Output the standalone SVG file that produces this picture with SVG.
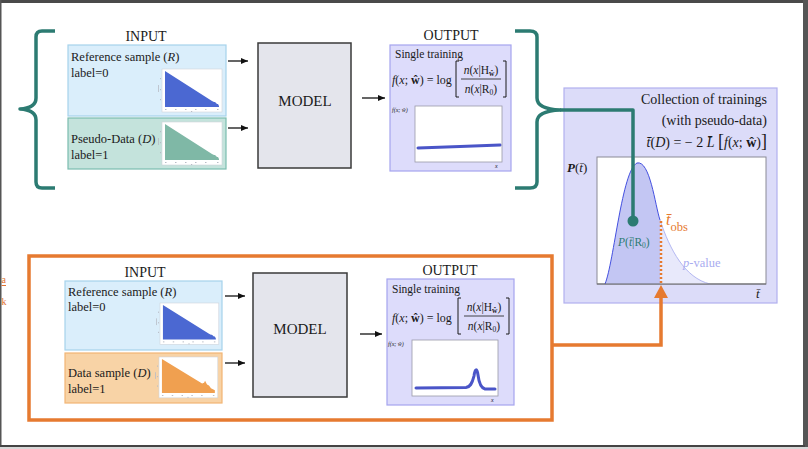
<svg xmlns="http://www.w3.org/2000/svg" width="808" height="449" viewBox="0 0 808 449">
  <style>
    text { font-family: "Liberation Serif", "DejaVu Serif", serif; fill: #1a1a1a; }
    .title { font-size: 14px; text-anchor: middle; }
    .lbl { font-size: 12.5px; }
    .model { font-size: 15px; text-anchor: middle; }
    .it { font-style: italic; }
    .bf { font-weight: bold; }
    .ref { fill: #daeefb; stroke: #a6d2ec; stroke-width: 1.2; }
    .pseudo { fill: #c4e3dc; stroke: #7bbcaf; stroke-width: 1.2; }
    .data { fill: #f8d3a6; stroke: #f2b574; stroke-width: 1.2; }
    .modelbox { fill: #e4e5ec; stroke: #3a3a3a; stroke-width: 1.5; }
    .outbox { fill: #dddcfb; stroke: #a5a4ee; stroke-width: 1.2; }
    .plot { fill: #ffffff; stroke: #9a9aa8; stroke-width: 0.8; }
    .arrow { stroke: #111; stroke-width: 1.3; fill: none; marker-end: url(#head); }
    .teal { stroke: #2c7b72; stroke-width: 3.5; fill: none; stroke-linejoin: round; }
    .orange { stroke: #e67a30; stroke-width: 3.5; fill: none; }
    .tiny { font-size: 6px; }
    .frac { font-size: 11.5px; text-anchor: middle; }
  </style>
  <defs>
    <marker id="head" markerUnits="userSpaceOnUse" markerWidth="7" markerHeight="6" refX="7" refY="3" orient="auto">
      <path d="M0,0 L7,3 L0,6 z" fill="#111"/>
    </marker>
    <!-- small histogram thumbnail; bar colour comes from the referencing <use> -->
    <g id="hist">
      <rect x="0" y="0" width="60" height="43" fill="#fff" stroke="#cfd3da" stroke-width="0.6"/>
      <polygon points="3,38 3,2 50,32 52,33 53,33 55,35 56,35 57,37 57,38"/>
      <g fill="#b8bcc6">
        <rect x="3" y="40" width="1.5" height="1"/><rect x="13" y="40" width="1.5" height="1"/>
        <rect x="23" y="40" width="1.5" height="1"/><rect x="33" y="40" width="1.5" height="1"/>
        <rect x="43" y="40" width="1.5" height="1"/><rect x="55" y="40" width="1.5" height="1"/>
        <rect x="29" y="42" width="1.2" height="1"/>
        <rect x="-2" y="9" width="1" height="1.2"/><rect x="-2" y="20" width="1" height="1.2"/>
        <rect x="-2" y="30" width="1" height="1.2"/><rect x="-4" y="16" width="0.8" height="7"/>
      </g>
    </g>
    <g id="hist-bump">
      <rect x="0" y="0" width="60" height="43" fill="#fff" stroke="#cfd3da" stroke-width="0.6"/>
      <polygon points="3,38 3,2 44,28 46,27 47,25 49,29 51,30 53,33 57,35 57,38"/>
      <g fill="#b8bcc6">
        <rect x="3" y="40" width="1.5" height="1"/><rect x="13" y="40" width="1.5" height="1"/>
        <rect x="23" y="40" width="1.5" height="1"/><rect x="33" y="40" width="1.5" height="1"/>
        <rect x="43" y="40" width="1.5" height="1"/><rect x="55" y="40" width="1.5" height="1"/>
        <rect x="29" y="42" width="1.2" height="1"/>
        <rect x="-2" y="9" width="1" height="1.2"/><rect x="-2" y="20" width="1" height="1.2"/>
        <rect x="-2" y="30" width="1" height="1.2"/><rect x="-4" y="16" width="0.8" height="7"/>
      </g>
    </g>
  </defs>

  <!-- page frame -->
  <rect x="0" y="0" width="808" height="449" fill="#ffffff"/>
  <rect x="0" y="0" width="808" height="3" fill="#4a4a4a"/>
  <rect x="803" y="0" width="5" height="449" fill="#555"/>
  <rect x="0" y="0" width="1.5" height="447" fill="#555"/>
  <rect x="0" y="445" width="805" height="2" fill="#444"/>
  <rect x="0" y="447" width="808" height="2" fill="#d8d8d8"/>

  <!-- side annotation -->
  <g id="side-note">
    <text x="1.5" y="283" font-size="10" style="fill:#e07030">a</text>
    <line x1="1.5" y1="285.5" x2="6" y2="285.5" stroke="#e07030" stroke-width="1"/>
    <text x="1.5" y="305" font-size="10" style="fill:#e07030">k</text>
  </g>

  <!-- ===== pseudo-data training row ===== -->
  <g id="top-input">
    <text class="title" x="146" y="41">INPUT</text>
    <rect class="ref" x="68" y="45" width="158" height="71"/>
    <text class="lbl" x="71" y="61">Reference sample (<tspan class="it">R</tspan>)</text>
    <text class="lbl" x="71" y="77">label=0</text>
    <use href="#hist" transform="translate(162,69)" fill="#4b68d2"/>
    <rect class="pseudo" x="68" y="118" width="158" height="51"/>
    <text class="lbl" x="71" y="143">Pseudo-Data (<tspan class="it">D</tspan>)</text>
    <text class="lbl" x="71" y="159">label=1</text>
    <use href="#hist" transform="translate(162,122)" fill="#7fb8a6"/>
  </g>

  <g id="top-model">
    <rect class="modelbox" x="258" y="43" width="93" height="125"/>
    <text class="model" x="305" y="106">MODEL</text>
  </g>

  <g id="top-output">
    <text class="title" x="451" y="40">OUTPUT</text>
    <rect class="outbox" x="390" y="45" width="121" height="126"/>
    <text x="395" y="58" font-size="11.5">Single training</text>
    <text x="392" y="84" font-size="12"><tspan class="it">f</tspan>(<tspan class="it">x</tspan>; <tspan class="bf">ŵ</tspan>) = log</text>
    <path d="M459,61 H456 V97 H459 M503,61 H506 V97 H503" stroke="#1a1a1a" stroke-width="1" fill="none"/>
    <text class="frac" x="481" y="74"><tspan class="it">n</tspan>(<tspan class="it">x</tspan>|H<tspan class="bf" font-size="7.5" dy="2">ŵ</tspan><tspan dy="-2">)</tspan></text>
    <line x1="461" y1="79" x2="501" y2="79" stroke="#1a1a1a" stroke-width="0.8"/>
    <text class="frac" x="481" y="93"><tspan class="it">n</tspan>(<tspan class="it">x</tspan>|R<tspan font-size="7.5" dy="2">0</tspan><tspan dy="-2">)</tspan></text>
    <rect class="plot" x="415" y="106" width="87" height="56"/>
    <text class="tiny it" x="392" y="112">f(x; ŵ)</text>
    <text class="tiny it" x="495" y="168">x</text>
    <path d="M418,148 L460,146.5 L500,145" stroke="#4a55c8" stroke-width="3" fill="none" stroke-linecap="round"/>
  </g>

  <!-- ===== observed data row ===== -->
  <g id="bottom-input">
    <text class="title" x="145" y="277">INPUT</text>
    <rect class="ref" x="65" y="281" width="157" height="69"/>
    <text class="lbl" x="68" y="296">Reference sample (<tspan class="it">R</tspan>)</text>
    <text class="lbl" x="68" y="311">label=0</text>
    <use href="#hist" transform="translate(160,303) scale(0.98,0.96)" fill="#4b68d2"/>
    <rect class="data" x="65" y="353" width="157" height="50"/>
    <text class="lbl" x="68" y="377">Data sample (<tspan class="it">D</tspan>)</text>
    <text class="lbl" x="68" y="393">label=1</text>
    <use href="#hist-bump" transform="translate(159,357) scale(0.98,0.95)" fill="#f0a050"/>
  </g>

  <g id="bottom-model">
    <rect class="modelbox" x="253" y="273" width="94" height="124"/>
    <text class="model" x="300" y="334">MODEL</text>
  </g>

  <g id="bottom-output">
    <text class="title" x="450" y="275">OUTPUT</text>
    <rect class="outbox" x="387" y="279" width="127" height="126"/>
    <text x="392" y="293" font-size="11.5">Single training</text>
    <text x="392" y="322" font-size="12"><tspan class="it">f</tspan>(<tspan class="it">x</tspan>; <tspan class="bf">ŵ</tspan>) = log</text>
    <path d="M461,298 H458 V334 H461 M506,298 H509 V334 H506" stroke="#1a1a1a" stroke-width="1" fill="none"/>
    <text class="frac" x="484" y="311"><tspan class="it">n</tspan>(<tspan class="it">x</tspan>|H<tspan class="bf" font-size="7.5" dy="2">ŵ</tspan><tspan dy="-2">)</tspan></text>
    <line x1="464" y1="316" x2="504" y2="316" stroke="#1a1a1a" stroke-width="0.8"/>
    <text class="frac" x="484" y="330"><tspan class="it">n</tspan>(<tspan class="it">x</tspan>|R<tspan font-size="7.5" dy="2">0</tspan><tspan dy="-2">)</tspan></text>
    <rect class="plot" x="412" y="340" width="86" height="56"/>
    <text class="tiny it" x="388" y="346">f(x; ŵ)</text>
    <text class="tiny it" x="491" y="402">x</text>
    <path d="M416,388 L466,387.5 C470,387 472,384 474,376 C475,368 477,368 478,375 C479,383 481,388 485,389 L495,389" stroke="#4a55c8" stroke-width="3" fill="none" stroke-linecap="round" stroke-linejoin="round"/>
  </g>

  <!-- ===== distribution of the test statistic ===== -->
  <g id="collection">
    <rect x="564" y="88" width="213" height="215" fill="#dcdcf9" stroke="#b1b0ee" stroke-width="1.2"/>
    <text x="767" y="104" font-size="14" text-anchor="end">Collection of trainings</text>
    <text x="767" y="125" font-size="14" text-anchor="end">(with pseudo-data)</text>
    <text x="767" y="147" font-size="14" text-anchor="end"><tspan class="it">t&#x304;</tspan>(<tspan class="it">D</tspan>) = − 2 <tspan class="it">L&#x304;</tspan> <tspan font-size="18">[</tspan><tspan class="it">f</tspan>(<tspan class="it">x</tspan>; <tspan class="bf">ŵ</tspan>)<tspan font-size="18">]</tspan></text>
    <rect x="597" y="157" width="169" height="127" fill="#fff" stroke="#8a8a96" stroke-width="1"/>
    <text x="567" y="172" font-size="13"><tspan class="it bf">P</tspan>(<tspan class="it">t&#x304;</tspan>)</text>
    <path d="M605,284 C614,262 622,170 637,163 C650,160 655,205 660,220 L660,284 Z" fill="#c3c6f3"/>
    <path d="M660,220 C670,250 685,278 710,284 L660,284 Z" fill="#e8e9fb"/>
    <path d="M605,284 C614,262 622,170 637,163 C650,160 655,205 660,220" stroke="#4450e0" stroke-width="1" fill="none"/>
    <path d="M660,220 C670,250 685,278 710,284" stroke="#b4b8f2" stroke-width="1" fill="none"/>
    <line x1="597" y1="284" x2="766" y2="284" stroke="#666" stroke-width="1.2"/>
    <text x="618" y="246" font-size="11.5" style="fill:#2c7b72"><tspan class="it" style="fill:#2c7b72">P</tspan>(<tspan class="it" style="fill:#2c7b72">t&#x304;</tspan>|R<tspan font-size="7.5" dy="2" style="fill:#2c7b72">0</tspan><tspan dy="-2" style="fill:#2c7b72">)</tspan></text>
    <text x="683" y="267" font-size="12.5" style="fill:#a9acf0"><tspan class="it" style="fill:#a9acf0">p</tspan>-value</text>
    <text x="666" y="225" font-size="16" style="fill:#e67a30"><tspan class="it" style="fill:#e67a30">t&#x304;</tspan><tspan font-size="12.5" dy="6" style="fill:#e67a30">obs</tspan></text>
    <text x="756" y="298" font-size="13" class="it">t&#x304;</text>
  </g>

  <!-- ===== connectors ===== -->
  <g id="connectors">
    <line class="arrow" x1="228" y1="61" x2="248" y2="61"/>
    <line class="arrow" x1="228" y1="128" x2="248" y2="128"/>
    <line class="arrow" x1="362" y1="98" x2="385" y2="98"/>
    <line class="arrow" x1="225" y1="296" x2="245" y2="296"/>
    <line class="arrow" x1="225" y1="363" x2="245" y2="363"/>
    <line class="arrow" x1="360" y1="334" x2="382" y2="334"/>

    <!-- braces collecting the pseudo-data trainings -->
    <path class="teal" d="M55,31 H42 Q36,31 36,37 V98 Q36,108 20,109 Q36,110 36,120 V182 Q36,188 42,188 H55"/>
    <path class="teal" d="M515,31 H530 Q537,31 537,37 V98 Q537,109 560,110 Q537,111 537,122 V182 Q537,188 530,188 H515"/>
    <path class="teal" d="M560,110 H633 V221"/>
    <circle cx="633" cy="221" r="5.5" fill="#2c7b72"/>

    <!-- observed-data frame and its link to t_obs -->
    <rect class="orange" x="29" y="256" width="523" height="164"/>
    <path class="orange" d="M552,345 H661 V297"/>
    <polygon points="654,298 668,298 661,285" fill="#e67a30"/>
    <line x1="661" y1="221" x2="661" y2="285" stroke="#e67a30" stroke-width="2.5" stroke-dasharray="2,2"/>
  </g>
</svg>
